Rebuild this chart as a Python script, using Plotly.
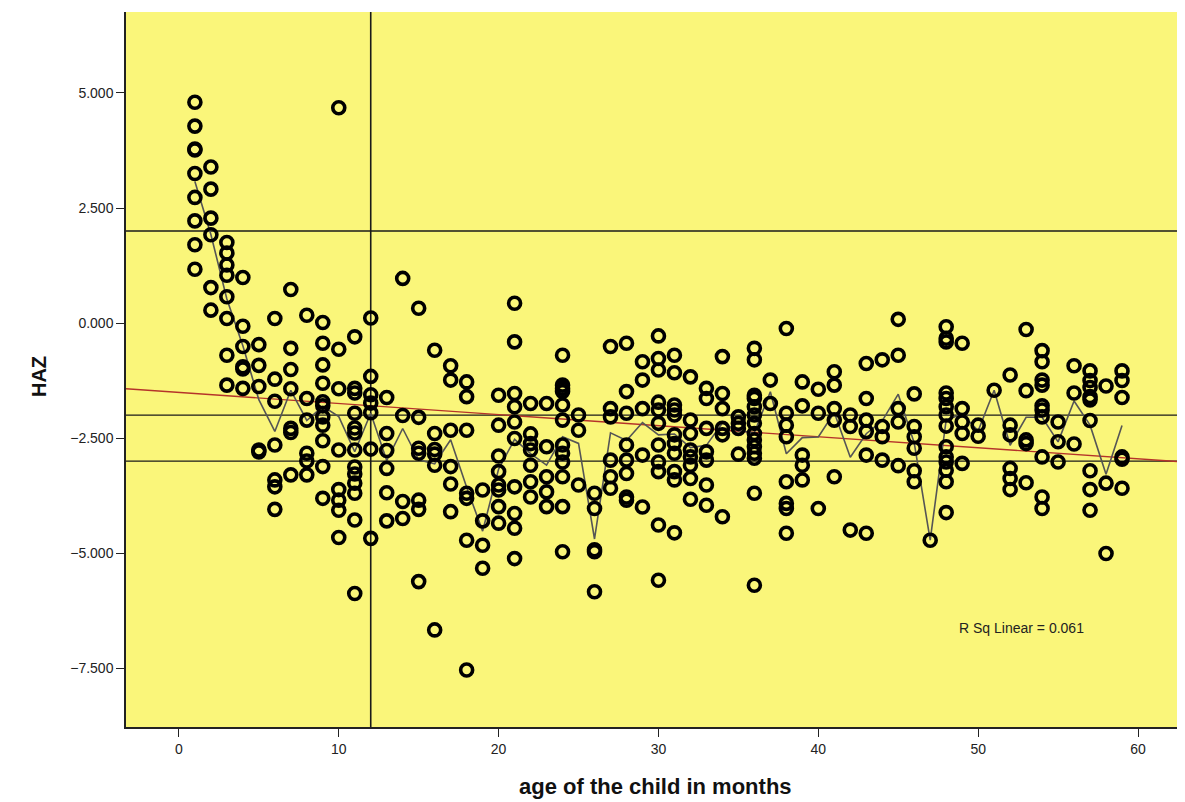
import numpy as np
import pandas as pd
import plotly.graph_objects as go

# ---- data (HAZ by age in months) ----
months = list(range(1, 60))
haz_by_month = [
    [4.80, 4.28, 3.78, 3.76, 3.25, 2.73, 2.22, 1.70, 1.17],            # 1
    [3.39, 2.91, 2.28, 1.92, 0.77, 0.28],                                # 2
    [1.75, 1.52, 1.26, 1.04, 0.57, 0.10, -0.70, -1.35],                  # 3
    [0.99, -0.07, -0.51, -0.95, -1.00, -1.42],                           # 4
    [-0.47, -0.92, -1.38, -2.76, -2.80],                                 # 5
    [0.10, -1.22, -1.70, -2.65, -3.41, -3.56, -4.05],                    # 6
    [0.73, -0.55, -1.01, -1.43, -2.29, -2.38, -3.30],                    # 7
    [0.17, -1.64, -2.11, -2.83, -3.00, -3.30],                           # 8
    [0.01, -0.44, -0.91, -1.31, -1.71, -1.80, -2.04, -2.22, -2.56, -3.12, -3.81],  # 9
    [4.68, -0.57, -1.43, -2.76, -3.62, -3.85, -4.07, -4.66],             # 10
    [-0.30, -1.42, -1.52, -1.96, -2.28, -2.39, -2.76, -3.13, -3.28, -3.48, -3.70, -4.28, -5.88],  # 11
    [0.11, -1.16, -1.56, -1.74, -1.95, -2.74, -4.68],                    # 12
    [-1.62, -2.40, -2.77, -3.16, -3.69, -4.30],                          # 13
    [0.97, -2.01, -3.88, -4.25],                                         # 14
    [0.32, -2.05, -2.72, -2.83, -3.85, -4.05, -5.62],                    # 15
    [-0.59, -2.40, -2.75, -2.85, -3.09, -6.67],                          # 16
    [-0.93, -1.24, -2.33, -3.12, -3.50, -4.10],                          # 17
    [-1.28, -1.60, -2.33, -3.70, -3.81, -4.72, -7.54],                   # 18
    [-3.63, -4.30, -4.83, -5.33],                                        # 19
    [-1.57, -2.22, -2.89, -3.23, -3.52, -3.63, -3.99, -4.35],            # 20
    [0.43, -0.41, -1.53, -1.82, -2.15, -2.51, -3.56, -4.14, -4.46, -5.12],  # 21
    [-1.75, -2.41, -2.62, -2.76, -3.09, -3.45, -3.78],                   # 22
    [-1.75, -2.69, -3.34, -3.67, -3.99],                                 # 23
    [-0.70, -1.35, -1.42, -1.49, -1.78, -2.11, -2.65, -2.83, -3.02, -3.34, -3.99, -4.97],  # 24
    [-2.00, -2.33, -3.52],                                               # 25
    [-3.70, -4.03, -4.93, -4.97, -5.84],                                 # 26
    [-0.51, -1.86, -2.04, -2.98, -3.34, -3.59],                          # 27
    [-0.44, -1.49, -1.96, -2.65, -2.98, -3.27, -3.78, -3.85],            # 28
    [-0.84, -1.24, -1.86, -2.87, -4.00],                                 # 29
    [-0.28, -0.77, -1.02, -1.72, -1.89, -2.18, -2.65, -3.02, -3.23, -4.39, -5.59],  # 30
    [-0.70, -1.08, -1.78, -1.89, -2.00, -2.43, -2.62, -2.83, -3.23, -3.41, -4.56],  # 31
    [-1.17, -2.11, -2.40, -2.76, -2.91, -3.09, -3.38, -3.83],            # 32
    [-1.42, -1.64, -2.29, -2.80, -2.98, -3.52, -3.96],                   # 33
    [-0.73, -1.53, -1.86, -2.29, -2.43, -4.21],                          # 34
    [-2.04, -2.18, -2.29, -2.85],                                        # 35
    [-0.55, -0.80, -1.57, -1.64, -1.82, -2.00, -2.18, -2.40, -2.54, -2.69, -2.83, -2.94, -3.70, -5.70],  # 36
    [-1.24, -1.75],                                                      # 37
    [-0.12, -1.96, -2.22, -2.47, -3.45, -3.92, -4.03, -4.57],            # 38
    [-1.28, -1.80, -2.87, -3.09, -3.41],                                 # 39
    [-1.44, -1.96, -4.03],                                               # 40
    [-1.06, -1.35, -1.86, -2.11, -3.34],                                 # 41
    [-2.00, -2.25, -4.50],                                               # 42
    [-0.88, -1.64, -2.11, -2.36, -2.87, -4.57],                          # 43
    [-0.80, -2.25, -2.47, -2.98],                                        # 44
    [0.08, -0.70, -1.86, -2.15, -3.10],                                  # 45
    [-1.54, -2.25, -2.47, -2.72, -3.21, -3.45],                          # 46
    [-4.72],                                                             # 47
    [-0.08, -0.33, -0.41, -1.52, -1.64, -1.82, -2.00, -2.24, -2.69, -2.91, -3.02, -3.20, -3.45, -4.12],  # 48
    [-0.44, -1.86, -2.15, -2.40, -3.05],                                 # 49
    [-2.22, -2.46],                                                      # 50
    [-1.46],                                                             # 51
    [-1.13, -2.22, -2.43, -3.16, -3.38, -3.62],                          # 52
    [-0.14, -1.47, -2.54, -2.62, -3.47],                                 # 53
    [-0.60, -0.84, -1.24, -1.35, -1.80, -1.89, -2.04, -2.91, -3.78, -4.03],  # 54
    [-2.15, -2.58, -3.02],                                               # 55
    [-0.93, -1.52, -2.63],                                               # 56
    [-1.04, -1.25, -1.40, -1.60, -1.67, -2.12, -3.21, -3.62, -4.07],     # 57
    [-1.37, -3.48, -5.01],                                               # 58
    [-1.04, -1.25, -1.62, -2.91, -2.96, -3.59],                          # 59
]

ref_y_lines = [2, -2, -3]
ref_x_lines = [12]
y_ticks = [5, 2.5, 0, -2.5, -5, -7.5]
x_ticks = [0, 10, 20, 30, 40, 50, 60]
r_sq_text = "R Sq Linear = 0.061"

x_range = [-3.31, 62.94]
y_range = [-8.78, 6.76]

# ---- build ----
age = np.concatenate([[m] * len(v) for m, v in zip(months, haz_by_month)]).astype(float)
haz = np.concatenate(haz_by_month).astype(float)
df = pd.DataFrame({"age": age, "haz": haz})
means = df.groupby("age")["haz"].mean()

slope, intercept = np.polyfit(age, haz, 1)
fit_x = np.array(x_range)
fit_y = intercept + slope * fit_x

BG = "#FAF67A"
FONT = "Liberation Sans, Arial, sans-serif"
fig = go.Figure()

for yv in ref_y_lines:
    fig.add_trace(go.Scatter(x=x_range, y=[yv, yv], mode="lines",
                             line=dict(color="#1a1a1a", width=1.3), hoverinfo="skip", showlegend=False))
for xv in ref_x_lines:
    fig.add_trace(go.Scatter(x=[xv, xv], y=y_range, mode="lines",
                             line=dict(color="#1a1a1a", width=1.6), hoverinfo="skip", showlegend=False))

fig.add_trace(go.Scatter(x=fit_x, y=fit_y, mode="lines",
                         line=dict(color="#B5332A", width=1.4), showlegend=False))

fig.add_trace(go.Scatter(x=means.index, y=means.values, mode="lines",
                         line=dict(color="#555555", width=1.6), showlegend=False))

fig.add_trace(go.Scatter(x=age, y=haz, mode="markers",
                         marker=dict(symbol="circle-open", size=12, color="black",
                                     line=dict(width=3.6, color="black")),
                         showlegend=False))

fig.add_annotation(x=48.7, y=-6.63, xref="x", yref="y", text=r_sq_text, showarrow=False,
                   xanchor="left", yanchor="middle",
                   font=dict(family=FONT, size=14, color="#222"))

fig.add_annotation(x=0.5, y=-0.083, xref="paper", yref="paper", yanchor="middle",
                   text="<b>age of the child in months</b>", showarrow=False,
                   font=dict(family=FONT, size=22, color="#111"))
fig.add_annotation(x=-0.095, y=0.49, xref="paper", yref="paper",
                   text="<b>HAZ</b>", showarrow=False, textangle=-90,
                   font=dict(family=FONT, size=20, color="#111"))

fig.update_layout(
    width=1177, height=794,
    margin=dict(l=118, r=0, t=4, b=75),
    paper_bgcolor="white", plot_bgcolor=BG,
    font=dict(family=FONT, size=14, color="#222"),
    showlegend=False,
)
fig.update_xaxes(range=x_range, tickvals=x_ticks, showgrid=False, zeroline=False,
                 showline=True, linecolor="#222", linewidth=1.5, mirror=False,
                 ticks="outside", ticklen=8, tickwidth=1.2, tickcolor="#222",
                 tickfont=dict(size=14))
fig.update_yaxes(range=y_range, tickvals=y_ticks, tickformat=".3f", showgrid=False, zeroline=False,
                 showline=True, linecolor="#222", linewidth=1.5,
                 ticks="outside", ticklen=8, tickwidth=1.2, tickcolor="#222",
                 tickfont=dict(size=14))

fig.write_html("out.html")
